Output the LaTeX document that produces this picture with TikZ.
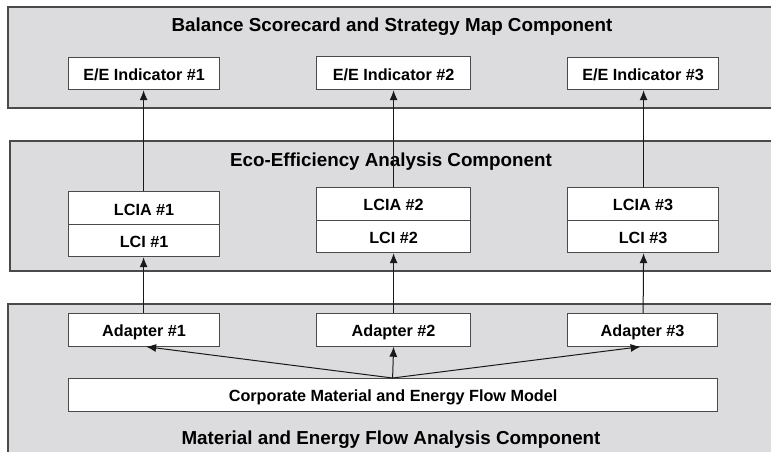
\documentclass[tikz,border=0pt]{standalone}
\usepackage{fontspec}
\setmainfont{Liberation Sans}
\usetikzlibrary{arrows.meta}
\definecolor{panelgrey}{HTML}{DCDCDE}
\definecolor{edgegrey}{HTML}{4A4A4A}
\tikzset{
  panel/.style={fill=panelgrey, draw=edgegrey, line width=1.2pt},
  paneltitle/.style={font=\fontsize{18.8}{20}\selectfont\bfseries, inner sep=0pt, anchor=base},
  unitbox/.style={draw=edgegrey, fill=white, line width=1.2pt, inner sep=0pt,
    text height=14pt, text depth=0pt,
    font=\fontsize{16.2}{18}\selectfont\bfseries, anchor=north west},
  flow/.style={-{Latex[length=10pt,width=8pt]}, line width=1pt, draw=black!90}
}
\begin{document}
\begin{tikzpicture}[x=1pt,y=-1pt]
\useasboundingbox (0,0) rectangle (771,451);
\begin{scope}
\clip (0,0) rectangle (771,451);
% component panels, running off the right edge
\draw[panel] (8,7) rectangle (790,108);
\draw[panel] (10,141) rectangle (790,271);
\draw[panel] (8,304) rectangle (790,470);
\end{scope}

% panel titles
\node[paneltitle] (t1) at (392,31.5) {Balance Scorecard and Strategy Map Component};
\node[paneltitle] (t2) at (391,166) {Eco-Efficiency Analysis Component};
\node[paneltitle] (t3) at (391,444) {Material and Energy Flow Analysis Component};

% indicators
\node[unitbox, minimum width=151pt, minimum height=32pt] (ee1) at (68,57) {E/E Indicator \#1};
\node[unitbox, minimum width=154pt, minimum height=33pt] (ee2) at (316,56) {E/E Indicator \#2};
\node[unitbox, minimum width=151pt, minimum height=32pt] (ee3) at (567,57) {E/E Indicator \#3};

% impact assessment / inventory stacks
\node[unitbox, minimum width=151pt, minimum height=33pt] (lcia1) at (68,191) {LCIA \#1};
\node[unitbox, minimum width=151pt, minimum height=32pt] (lci1) at (68,224) {LCI \#1};
\node[unitbox, minimum width=154pt, minimum height=32.5pt] (lcia2) at (316,187) {LCIA \#2};
\node[unitbox, minimum width=154pt, minimum height=32.5pt] (lci2) at (316,219.5) {LCI \#2};
\node[unitbox, minimum width=151pt, minimum height=32.5pt] (lcia3) at (567,187) {LCIA \#3};
\node[unitbox, minimum width=151pt, minimum height=32.5pt] (lci3) at (567,219.5) {LCI \#3};

% adapters
\node[unitbox, minimum width=151pt, minimum height=32.5pt] (ad1) at (68,313) {Adapter \#1};
\node[unitbox, minimum width=154pt, minimum height=32.5pt] (ad2) at (316,313) {Adapter \#2};
\node[unitbox, minimum width=150pt, minimum height=32.5pt] (ad3) at (567,313) {Adapter \#3};

% flow model
\node[unitbox, minimum width=649pt, minimum height=32.5pt] (model) at (68,378) {Corporate Material and Energy Flow Model};

% connectors
\coordinate (src) at ([xshift=-0.5pt]model.north);
\draw[flow] (src) -- ([xshift=2pt]ad1.south);
\draw[flow] (src) -- (ad2.south);
\draw[flow] (src) -- ([xshift=-2pt]ad3.south);

\draw[flow] ([xshift=-0.5pt]ad1.north) -- ([xshift=-0.5pt]lci1.south);
\draw[flow] (ad2.north) -- (lci2.south);
\draw[flow] ([xshift=0.5pt]ad3.north) -- ([xshift=0.5pt]lci3.south);

\draw[flow] ([xshift=-0.5pt]lcia1.north) -- ([xshift=-0.5pt]ee1.south);
\draw[flow] (lcia2.north) -- (ee2.south);
\draw[flow] ([xshift=0.5pt]lcia3.north) -- ([xshift=0.5pt]ee3.south);
\end{tikzpicture}
\end{document}
